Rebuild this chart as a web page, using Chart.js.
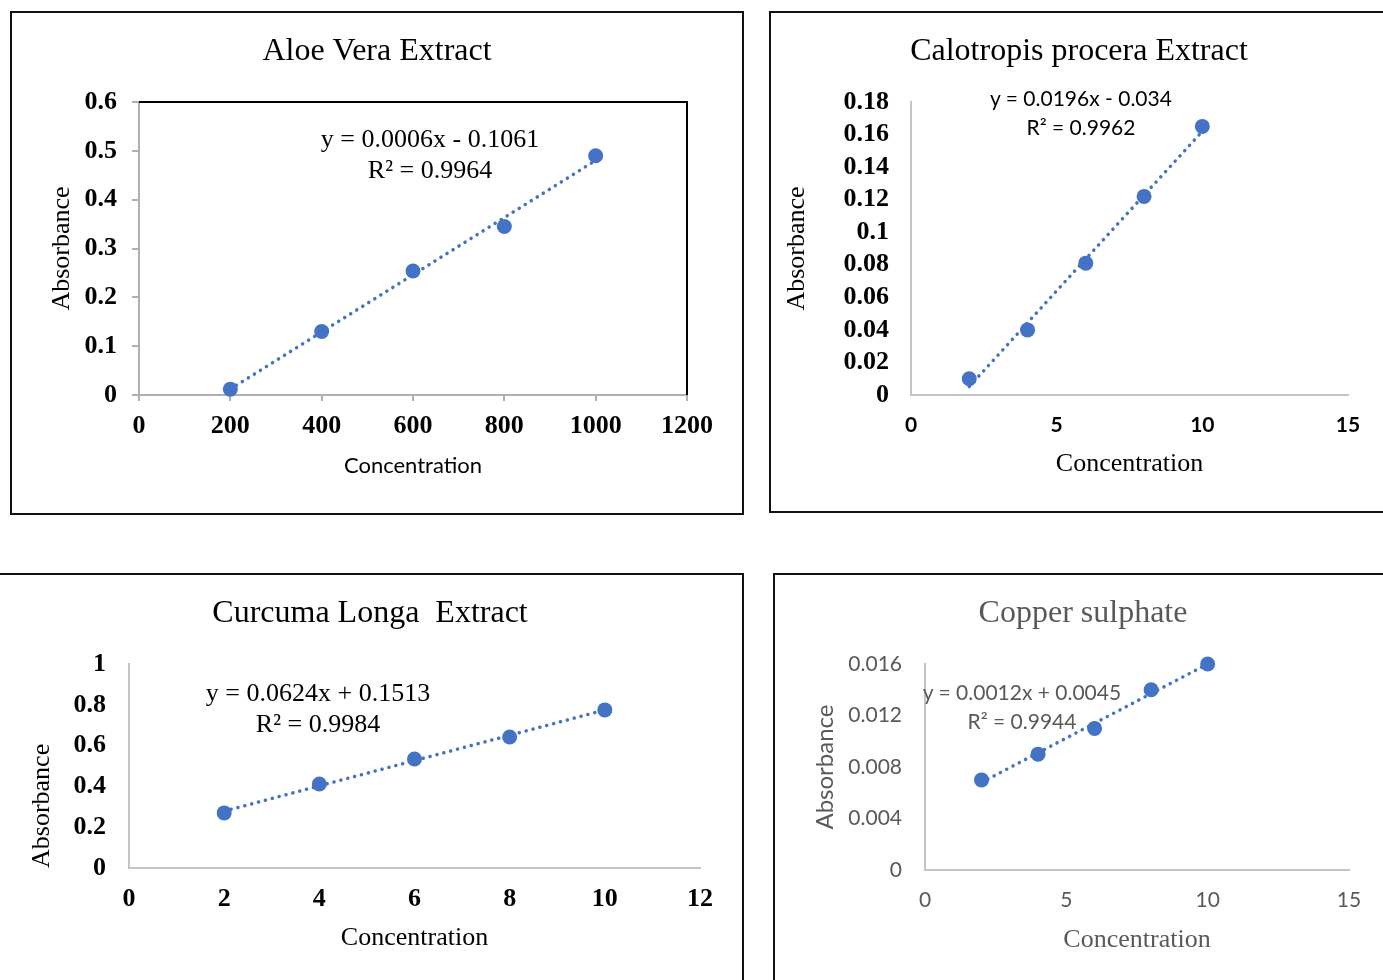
<!DOCTYPE html>
<html>
<head>
<meta charset="utf-8">
<script src="https://cdn.jsdelivr.net/npm/chart.js@4.4.1/dist/chart.umd.min.js"></script>
<style>
  html, body { margin: 0; padding: 0; background: #fff; width: 1383px; height: 980px; overflow: hidden; }
  body { position: relative; }
  .frame { position: absolute; box-sizing: border-box; border: 2px solid #111; }
  canvas { position: absolute; }
  .eq { position: absolute; transform: translate(-50%, -50%); white-space: nowrap; line-height: 1; }
</style>
</head>
<body>
<div class="frame" style="left:10px;top:11px;width:734px;height:504px;"></div>
<div class="frame" style="left:769px;top:11px;width:700px;height:502px;"></div>
<div class="frame" style="left:-10px;top:573px;width:754px;height:500px;"></div>
<div class="frame" style="left:773px;top:573px;width:700px;height:500px;"></div>
<script>
// ---------------- data ----------------
const aloeConc = [200, 400, 600, 800, 1000];
const aloeAbs  = [0.012, 0.13, 0.254, 0.345, 0.49];
const calConc  = [2, 4, 6, 8, 10];
const calAbs   = [0.01, 0.04, 0.081, 0.122, 0.165];
const curConc  = [2, 4, 6, 8, 10];
const curAbs   = [0.27, 0.412, 0.534, 0.642, 0.775];
const cuConc   = [2, 4, 6, 8, 10];
const cuAbs    = [0.007, 0.009, 0.011, 0.014, 0.016];

const chartTitles = ['Aloe Vera Extract', 'Calotropis procera Extract', 'Curcuma Longa  Extract', 'Copper sulphate'];
const equations = ['y = 0.0006x - 0.1061', 'y = 0.0196x - 0.034', 'y = 0.0624x + 0.1513', 'y = 0.0012x + 0.0045'];
const rSquared  = ['R² = 0.9964', 'R² = 0.9962', 'R² = 0.9984', 'R² = 0.9944'];
const xAxisTitle = 'Concentration';
const yAxisTitle = 'Absorbance';

// axis ranges [min, max, step]
const aloeXTicks = [0, 1200, 200];  const aloeYTicks = [0, 0.6, 0.1];
const calXTicks  = [0, 15, 5];      const calYTicks  = [0, 0.18, 0.02];
const curXTicks  = [0, 12, 2];      const curYTicks  = [0, 1, 0.2];
const cuXTicks   = [0, 15, 5];      const cuYTicks   = [0, 0.016, 0.004];

// ---------------- helpers ----------------
const SERIF = '"Liberation Serif", "Times New Roman", serif';
const SANS = 'Lato, Carlito, Calibri, "Liberation Sans", sans-serif';
const BLUE = '#4472C4';

function trend(xs, ys) {
  const n = xs.length;
  const mx = xs.reduce((a, b) => a + b, 0) / n;
  const my = ys.reduce((a, b) => a + b, 0) / n;
  let sxy = 0, sxx = 0;
  for (let i = 0; i < n; i++) { sxy += (xs[i] - mx) * (ys[i] - my); sxx += (xs[i] - mx) ** 2; }
  const m = sxy / sxx, c = my - m * mx;
  const x0 = Math.min(...xs), x1 = Math.max(...xs);
  return [{ x: x0, y: m * x0 + c }, { x: x1, y: m * x1 + c }];
}
function fmt(v) { return String(parseFloat(Number(v).toFixed(6))); }

const framePlugin = {
  id: 'plotFrame',
  afterDatasetsDraw(chart, args, opts) {
    if (!opts || !opts.show) return;
    const { ctx, chartArea: a } = chart;
    ctx.save();
    ctx.strokeStyle = '#000';
    ctx.lineWidth = 2;
    ctx.beginPath();
    ctx.moveTo(a.left, a.top);
    ctx.lineTo(a.right, a.top);
    ctx.lineTo(a.right, a.bottom);
    ctx.stroke();
    ctx.restore();
  }
};

function makeChart(s) {
  const P = 40;
  const spanL = 2 * s.titleX - s.area.r;          // title span [spanL, area.r] centred on titleX
  const cx = spanL - P, cw = s.area.r + P - cx;
  const cv = document.createElement('canvas');
  cv.width = cw; cv.height = s.top.h;
  cv.style.left = cx + 'px'; cv.style.top = s.top.y + 'px';
  cv.style.width = cw + 'px'; cv.style.height = s.top.h + 'px';
  document.body.appendChild(cv);

  const LHt = s.titleFont.size * 1.2;
  const tTop = s.titleY - s.top.y - LHt / 2;
  const tBot = s.area.t - s.top.y - tTop - LHt;
  const LHx = s.xTitleFont.size * 1.2;
  const H = s.xTitleY - s.area.b + LHx / 2;
  const padBottom = s.top.y + s.top.h - s.area.b - H;
  const Wy = s.area.l - spanL;
  const LHy = s.yTitleFont.size * 1.2;
  const yPadTop = s.yTitleX - spanL - LHy / 2;

  const pts = s.xs.map((x, i) => ({ x: x, y: s.ys[i] }));

  new Chart(cv, {
    type: 'scatter',
    data: {
      datasets: [
        { label: 'points', data: pts, order: 0, clip: false, backgroundColor: BLUE, borderColor: BLUE,
          pointRadius: 7.5, pointHoverRadius: 7.5, pointBorderWidth: 0, showLine: false },
        { label: 'trend', data: trend(s.xs, s.ys), order: 1, clip: false, showLine: true, pointRadius: 0,
          borderColor: BLUE, borderWidth: 3.5, borderDash: [0.1, 7], borderCapStyle: 'round', fill: false }
      ]
    },
    options: {
      responsive: false,
      animation: false,
      events: [],
      layout: { padding: { left: P, top: 0, right: P, bottom: padBottom } },
      plugins: {
        legend: { display: false },
        tooltip: { enabled: false },
        title: {
          display: true, text: s.title, color: s.titleColor,
          font: { family: SERIF, size: s.titleFont.size, weight: 'normal', lineHeight: 1.2 },
          padding: { top: tTop, bottom: tBot }
        },
        plotFrame: { show: !!s.frame }
      },
      scales: {
        x: {
          type: 'linear', position: 'bottom',
          min: s.xTicks[0], max: s.xTicks[1],
          afterFit: sc => { sc.height = H; },
          ticks: { stepSize: s.xTicks[2], autoSkip: false, maxRotation: 0, padding: s.xTickPad,
                   color: s.tickColor, font: Object.assign({ lineHeight: 1 }, s.xTickFont), callback: v => fmt(v) },
          grid: s.frame ? { display: true, drawOnChartArea: false, drawTicks: true, tickLength: 6, color: s.axisColor, lineWidth: 2 }
                        : { display: false, drawTicks: false, tickLength: 0 },
          border: { display: true, color: s.axisColor, width: 2 },
          title: { display: true, text: xAxisTitle, color: s.titleColor,
                   font: Object.assign({ lineHeight: 1.2 }, s.xTitleFont), padding: { top: 0, bottom: 0 } }
        },
        y: {
          type: 'linear', position: 'left',
          min: s.yTicks[0], max: s.yTicks[1],
          afterFit: sc => { sc.width = Wy; },
          ticks: { stepSize: s.yTicks[2], autoSkip: false, padding: s.yTickPad,
                   color: s.tickColor, font: Object.assign({ lineHeight: 1 }, s.yTickFont), callback: v => fmt(v) },
          grid: s.frame ? { display: true, drawOnChartArea: false, drawTicks: true, tickLength: 7, color: s.axisColor, lineWidth: 2 }
                        : { display: false, drawTicks: false, tickLength: 0 },
          border: { display: true, color: s.axisColor, width: 2 },
          title: { display: true, text: yAxisTitle, color: s.titleColor, align: s.yTitleAlign || 'center',
                   font: Object.assign({ lineHeight: 1.2 }, s.yTitleFont), padding: { top: yPadTop, bottom: 0 } }
        }
      }
    },
    plugins: [framePlugin]
  });

  s.eq.forEach((e, i) => {
    const d = document.createElement('div');
    d.className = 'eq';
    d.textContent = i === 0 ? s.eqText : s.r2Text;
    d.style.left = e[0] + 'px'; d.style.top = e[1] + 'px';
    d.style.fontFamily = s.eqFont.family; d.style.fontSize = s.eqFont.size + 'px';
    d.style.color = s.eqColor;
    document.body.appendChild(d);
  });
}

// Aloe Vera
makeChart({
  top: { y: 13, h: 500 }, titleX: 377, area: { l: 139, r: 687, t: 102, b: 395 },
  xs: aloeConc, ys: aloeAbs, xTicks: aloeXTicks, yTicks: aloeYTicks,
  title: chartTitles[0], titleColor: '#000', titleFont: { size: 32 }, titleY: 52,
  tickColor: '#000', axisColor: '#b0b0b0', frame: true,
  yTickFont: { family: SERIF, size: 26, weight: 'bold' }, yTickPad: 15,
  xTickFont: { family: SERIF, size: 26, weight: 'bold' }, xTickPad: 12,
  xTitleFont: { family: SANS, size: 22, weight: 'normal' }, xTitleY: 466,
  yTitleFont: { family: SERIF, size: 26, weight: 'normal' }, yTitleX: 62,
  eqText: equations[0], r2Text: rSquared[0], eq: [[430, 139], [430, 170]],
  eqFont: { family: SERIF, size: 26 }, eqColor: '#000'
});

// Calotropis procera
makeChart({
  top: { y: 13, h: 497 }, titleX: 1079, area: { l: 911, r: 1348, t: 102, b: 395 },
  xs: calConc, ys: calAbs, xTicks: calXTicks, yTicks: calYTicks,
  title: chartTitles[1], titleColor: '#000', titleFont: { size: 32 }, titleY: 52,
  tickColor: '#000', axisColor: '#c4c4c4', frame: false,
  yTickFont: { family: SERIF, size: 26, weight: 'bold' }, yTickPad: 22,
  xTickFont: { family: SANS, size: 21, weight: 'bold' }, xTickPad: 20,
  xTitleFont: { family: SERIF, size: 26, weight: 'normal' }, xTitleY: 464,
  yTitleFont: { family: SERIF, size: 26, weight: 'normal' }, yTitleX: 797,
  eqText: equations[1], r2Text: rSquared[1], eq: [[1081, 97], [1081, 126]],
  eqFont: { family: SANS, size: 21 }, eqColor: '#000'
});

// Curcuma Longa
makeChart({
  top: { y: 575, h: 405 }, titleX: 370, area: { l: 129, r: 700, t: 664, b: 868 },
  xs: curConc, ys: curAbs, xTicks: curXTicks, yTicks: curYTicks,
  title: chartTitles[2], titleColor: '#000', titleFont: { size: 32 }, titleY: 614,
  tickColor: '#000', axisColor: '#c4c4c4', frame: false,
  yTickFont: { family: SERIF, size: 26, weight: 'bold' }, yTickPad: 23,
  xTickFont: { family: SERIF, size: 26, weight: 'bold' }, xTickPad: 18,
  xTitleFont: { family: SERIF, size: 26, weight: 'normal' }, xTitleY: 938,
  yTitleFont: { family: SERIF, size: 26, weight: 'normal' }, yTitleX: 42, yTitleAlign: 'start',
  eqText: equations[2], r2Text: rSquared[2], eq: [[318, 693], [318, 724]],
  eqFont: { family: SERIF, size: 26 }, eqColor: '#000'
});

// Copper sulphate
makeChart({
  top: { y: 575, h: 405 }, titleX: 1083, area: { l: 925, r: 1349, t: 664, b: 870 },
  xs: cuConc, ys: cuAbs, xTicks: cuXTicks, yTicks: cuYTicks,
  title: chartTitles[3], titleColor: '#595959', titleFont: { size: 32 }, titleY: 614,
  tickColor: '#595959', axisColor: '#c4c4c4', frame: false,
  yTickFont: { family: SANS, size: 21, weight: 'normal' }, yTickPad: 23,
  xTickFont: { family: SANS, size: 21, weight: 'normal' }, xTickPad: 20,
  xTitleFont: { family: SERIF, size: 26, weight: 'normal' }, xTitleY: 940,
  yTitleFont: { family: SANS, size: 24, weight: 'normal' }, yTitleX: 825,
  eqText: equations[3], r2Text: rSquared[3], eq: [[1022, 691], [1022, 720]],
  eqFont: { family: SANS, size: 21 }, eqColor: '#595959'
});
</script>
</body>
</html>
